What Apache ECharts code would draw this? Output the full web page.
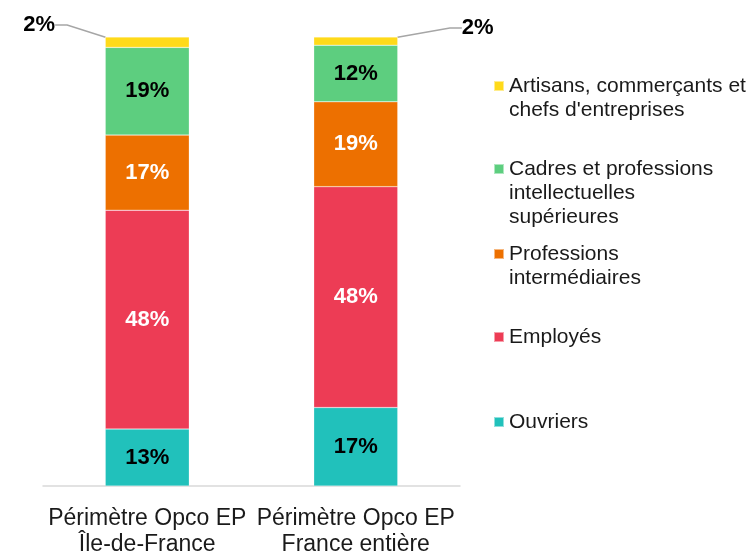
<!DOCTYPE html>
<html>
<head>
<meta charset="utf-8">
<script src="https://cdn.jsdelivr.net/npm/echarts@6/dist/echarts.min.js"></script>
<style>
  html, body { margin: 0; padding: 0; background: #fff; }
  #chart { width: 753px; height: 551px; }
</style>
</head>
<body>
<div id="chart"></div>
<script>
// category labels (x axis)
const categories = ['Périmètre Opco EP\nÎle-de-France', 'Périmètre Opco EP\nFrance entière']

// raw shares, in % (labels are rounded from these)
const ouvriers = [12.6, 17.2]
const employes = [48.4, 48.4]
const profInter = [16.6, 18.6]
const cadres = [19.4, 12.4]
const artisans = [2.3, 1.8]

const seriesNames = [
  'Ouvriers',
  'Employés',
  'Professions\nintermédiaires',
  'Cadres et professions\nintellectuelles\nsupérieures',
  'Artisans, commerçants et\nchefs d\'entreprises'
]
const colors = ['#21c1bb', '#ed3c55', '#ed7000', '#5dce7f', '#ffda1a']
const labelColors = ['#000', '#fff', '#fff', '#000', '#000']

const rawSets = [ouvriers, employes, profInter, cadres, artisans]
// each bar is drawn as 100%
const totals = categories.map((c, i) => rawSets.reduce((s, arr) => s + arr[i], 0))

const FONT = '"Liberation Sans", Arial, sans-serif'
const LEGEND_LH = 24

const series = rawSets.map((arr, k) => {
  const s = {
    name: seriesNames[k],
    type: 'bar',
    stack: 'total',
    barWidth: 84,
    itemStyle: { color: colors[k], borderColor: 'rgba(255,255,255,0.5)', borderWidth: 0.5 },
    data: arr.map((v, i) => ({ value: v / totals[i] * 100, raw: v })),
    label: {
      show: true,
      position: 'inside',
      color: labelColors[k],
      fontFamily: FONT,
      fontWeight: 'bold',
      fontSize: 22,
      formatter: p => Math.round(p.data.raw) + '%'
    }
  }
  if (k === 4) {
    s.label.position = 'top'
    s.label.distance = 5
    s.labelLayout = p => p.dataIndex === 0 ? { dx: -108, dy: 4 } : { dx: 122, dy: 7 }
    s.labelLine = { show: true, length2: 12, lineStyle: { color: '#a6a6a6', width: 1.5 } }
  }
  return s
})

// legend order, top to bottom, and the y of each square's centre
const legendOrder = [4, 3, 2, 1, 0]
const legendIconY = [86, 169, 254, 337, 422]

const legends = legendOrder.map((k, j) => {
  const lines = seriesNames[k].split('\n').length
  // blank lines in front so the square sits on the first text line
  const lead = '\n'.repeat(lines - 1)
  return {
    orient: 'vertical',
    left: 493,
    top: legendIconY[j] - LEGEND_LH / 2 - (lines - 1) * LEGEND_LH,
    padding: 0,
    data: [seriesNames[k]],
    formatter: name => lead + name,
    icon: 'rect',
    itemWidth: 10,
    itemHeight: 10,
    itemGap: 0,
    selectedMode: false,
    textStyle: {
      fontFamily: FONT,
      fontSize: 21,
      lineHeight: LEGEND_LH,
      color: '#1a1a1a'
    }
  }
})

const chart = echarts.init(document.getElementById('chart'))
chart.setOption({
  animation: false,
  grid: { left: 43, right: 293, top: 37, bottom: 65, outerBoundsMode: 'none' },
  legend: legends,
  xAxis: {
    type: 'category',
    data: categories,
    axisLine: { lineStyle: { color: '#d9d9d9', width: 1.5 } },
    axisTick: { show: false },
    axisLabel: {
      interval: 0,
      margin: 20,
      fontFamily: FONT,
      fontSize: 23,
      lineHeight: 26,
      color: '#1a1a1a'
    }
  },
  yAxis: {
    type: 'value',
    min: 0,
    max: 100,
    show: false
  },
  series: series
})
</script>
</body>
</html>
